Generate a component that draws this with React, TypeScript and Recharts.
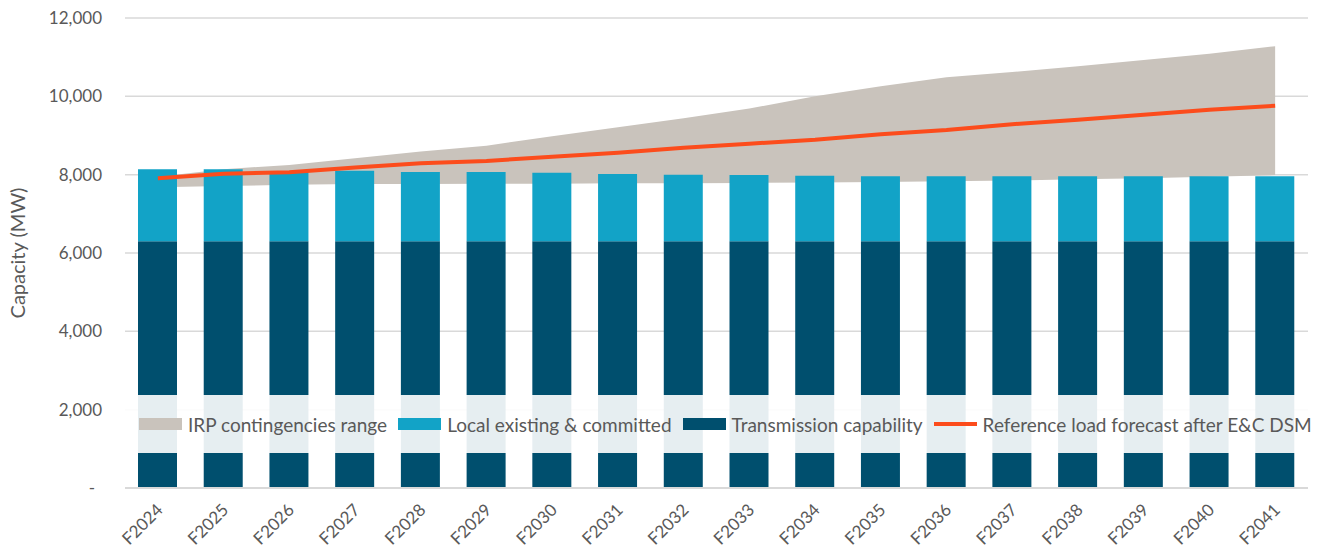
import { ComposedChart, Area, Bar, Line, XAxis, YAxis, CartesianGrid, Legend } from "recharts"

const years = [
  "F2024", "F2025", "F2026", "F2027", "F2028", "F2029", "F2030", "F2031", "F2032",
  "F2033", "F2034", "F2035", "F2036", "F2037", "F2038", "F2039", "F2040", "F2041",
]
const transmission = [6300, 6300, 6300, 6300, 6300, 6300, 6300, 6300, 6300, 6300, 6300, 6300, 6300, 6300, 6300, 6300, 6300, 6300]
const localCommitted = [1840, 1840, 1790, 1800, 1770, 1770, 1750, 1720, 1700, 1690, 1670, 1660, 1660, 1660, 1660, 1660, 1660, 1660]
const irpLow = [7680, 7710, 7740, 7760, 7760, 7770, 7770, 7780, 7780, 7790, 7800, 7810, 7830, 7850, 7880, 7910, 7950, 7990]
const irpHigh = [7950, 8140, 8250, 8420, 8590, 8740, 8980, 9210, 9440, 9690, 10000, 10260, 10490, 10620, 10770, 10930, 11090, 11280]
const loadForecast = [7910, 8025, 8060, 8180, 8290, 8350, 8460, 8560, 8690, 8790, 8890, 9030, 9140, 9290, 9400, 9530, 9660, 9760]
const yTicks = [0, 2000, 4000, 6000, 8000, 10000, 12000]

const COLORS = {
  irp: "#c9c3bc",
  local: "#12a3c7",
  transmission: "#004f6e",
  load: "#fc4c1c",
  text: "#595959",
  grid: "#d9d9d9",
}
const FONT = "Lato, 'Liberation Sans', sans-serif"

const data = years.map((year, i) => ({
  year,
  transmission: transmission[i],
  local: localCommitted[i],
  irp: [irpLow[i], irpHigh[i]],
  load: loadForecast[i],
}))

const legendItems = [
  { label: "IRP contingencies range", color: COLORS.irp, kind: "box" },
  { label: "Local existing & committed", color: COLORS.local, kind: "box" },
  { label: "Transmission capability", color: COLORS.transmission, kind: "box" },
  { label: "Reference load forecast after E&C DSM", color: COLORS.load, kind: "line" },
]

function ChartLegend() {
  return (
    <div
      style={{
        display: "flex",
        alignItems: "center",
        height: 58,
        paddingLeft: 14,
        background: "rgba(255,255,255,0.9)",
        fontFamily: FONT,
        fontSize: 19,
        color: COLORS.text,
        whiteSpace: "nowrap",
      }}
    >
      {legendItems.map((item) => (
        <span key={item.label} style={{ display: "flex", alignItems: "center", marginRight: 11 }}>
          <span
            style={{
              display: "inline-block",
              width: 43,
              height: item.kind === "box" ? 12 : 4,
              background: item.color,
              marginRight: 6,
            }}
          />
          {item.label}
        </span>
      ))}
    </div>
  )
}

function XTick({ x, y, payload }: any) {
  const ax = x + 6
  const ay = y + 15
  return (
    <text
      x={ax}
      y={ay}
      transform={`rotate(-45 ${ax} ${ay})`}
      textAnchor="end"
      fill={COLORS.text}
      fontSize={17}
      fontFamily={FONT}
    >
      {payload.value}
    </text>
  )
}

function YTick({ x, y, payload }: any) {
  const isZero = payload.value === 0
  return (
    <text
      x={isZero ? x - 22 : x - 15}
      y={y}
      dy={6}
      textAnchor="end"
      fill={COLORS.text}
      fontSize={17}
      fontFamily={FONT}
    >
      {isZero ? "-" : payload.value.toLocaleString("en-US")}
    </text>
  )
}

export default function App() {
  return (
    <div style={{ position: "absolute", left: 0, top: 0, background: "#fff" }}>
      <ComposedChart
        width={1322}
        height={553}
        data={data}
        margin={{ top: 18, right: 14, bottom: 0, left: 0 }}
        barSize={39}
      >
        <CartesianGrid vertical={false} stroke={COLORS.grid} strokeWidth={1.5} />
        <XAxis
          dataKey="year"
          height={65}
          tickLine={false}
          axisLine={{ stroke: COLORS.grid, strokeWidth: 2 }}
          tick={<XTick />}
          interval={0}
        />
        <YAxis
          width={125}
          domain={[0, 12000]}
          ticks={yTicks}
          tickLine={false}
          axisLine={false}
          tick={<YTick />}
          label={{
            value: "Capacity (MW)",
            angle: -90,
            position: "insideLeft",
            offset: 18,
            style: { fill: COLORS.text, fontSize: 20, fontFamily: FONT, textAnchor: "middle" },
          }}
        />
        <Area
          dataKey="irp"
          type="linear"
          fill={COLORS.irp}
          fillOpacity={1}
          stroke="none"
          isAnimationActive={false}
        />
        <Bar dataKey="transmission" stackId="cap" fill={COLORS.transmission} isAnimationActive={false} />
        <Bar dataKey="local" stackId="cap" fill={COLORS.local} isAnimationActive={false} />
        <Line
          dataKey="load"
          type="linear"
          stroke={COLORS.load}
          strokeWidth={4}
          dot={false}
          isAnimationActive={false}
        />
        <Legend
          verticalAlign="middle"
          align="center"
          content={<ChartLegend />}
          wrapperStyle={{ top: 395, left: 125, width: 1183, height: 58 }}
        />
      </ComposedChart>
    </div>
  )
}
